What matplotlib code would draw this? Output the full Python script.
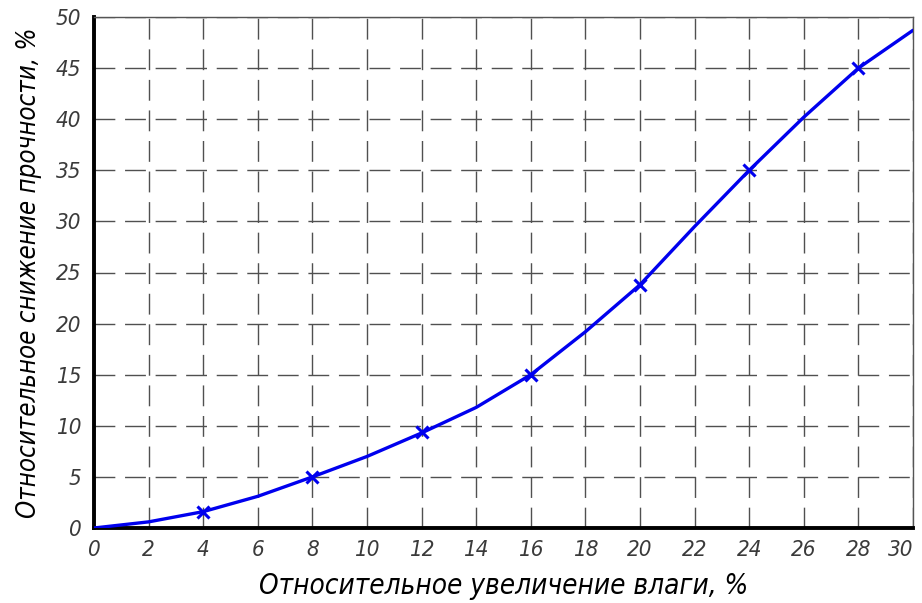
import matplotlib
matplotlib.use('Agg')
import matplotlib.pyplot as plt

# Curve (moisture increase, % -> strength loss, %)
curve_x = [0, 2, 4, 6, 8, 10, 12, 14, 16, 18, 20, 22, 24, 26, 28, 30]
curve_y = [0, 0.6, 1.6, 3.1, 5.0, 7.0, 9.3, 11.8, 15.0, 19.2, 23.8, 29.5, 35.0, 40.2, 45.0, 48.7]

# Measured points (x markers)
meas_x = [4, 8, 12, 16, 20, 24, 28]
meas_y = [1.6, 5.0, 9.4, 15.0, 23.8, 35.0, 45.0]

x_ticks = list(range(0, 31, 2))
y_ticks = list(range(0, 51, 5))

plt.rcParams['font.family'] = ['DejaVu Sans']
plt.rcParams['font.stretch'] = 'condensed'

fig = plt.figure(figsize=(9.22, 6.03), dpi=100)
ax = fig.add_axes([94 / 922, 1 - 528 / 603, (913 - 94) / 922, (528 - 17) / 603])

ax.plot(curve_x, curve_y, color='#0000ee', lw=2.4, zorder=3, solid_capstyle='round')
ax.plot(meas_x, meas_y, linestyle='none', marker='x', color='#0000ee',
        markersize=9, markeredgewidth=2.2, zorder=4)

ax.set_xlim(0, 30)
ax.set_ylim(0, 50)
ax.set_xticks(x_ticks)
ax.set_yticks(y_ticks)
ax.grid(True, color='#505050', linewidth=1.0, linestyle=(0, (15, 7)))
ax.set_axisbelow(True)
ax.tick_params(length=0, labelsize=16, labelcolor='#3a3a3a')
ax.tick_params(axis='x', pad=9)
ax.tick_params(axis='y', pad=9)
for lab in ax.get_xticklabels() + ax.get_yticklabels():
    lab.set_fontstyle('italic')
# keep the last x label inside the figure
ax.get_xticklabels()[-1].set_horizontalalignment('right')

for side in ['left', 'bottom']:
    ax.spines[side].set_linewidth(2.8)
    ax.spines[side].set_color('black')
for side in ['top', 'right']:
    ax.spines[side].set_linewidth(1.0)
    ax.spines[side].set_color('#555555')

ax.set_xlabel('Относительное увеличение влаги, %', fontsize=20, fontstyle='italic',
              labelpad=8)
ax.set_ylabel('Относительное снижение прочности, %', fontsize=18.5, fontstyle='italic',
              labelpad=10)

fig.savefig('out.png', dpi=100)
